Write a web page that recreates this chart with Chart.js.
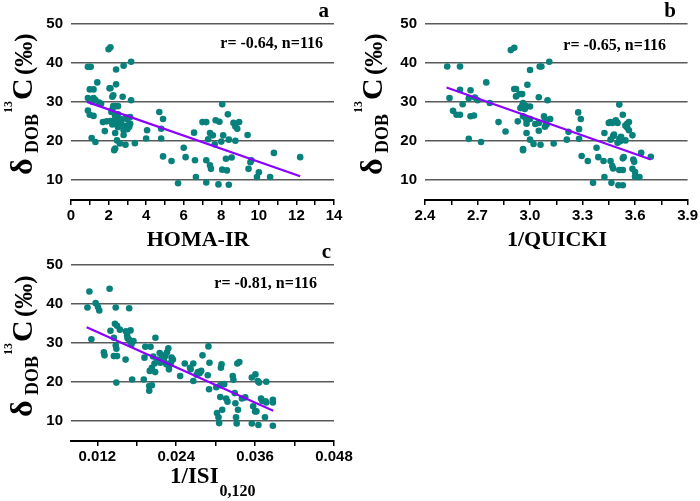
<!DOCTYPE html>
<html>
<head>
<meta charset="utf-8">
<script src="https://cdn.jsdelivr.net/npm/chart.js@4"></script>
<style>
  html, body { margin: 0; padding: 0; background: #fff; }
  #wrap { position: relative; width: 700px; height: 501px; }
  canvas { position: absolute; left: 0; top: 0; }
</style>
</head>
<body>
<div id="wrap">
  <canvas id="chartA" width="700" height="501"></canvas>
  <canvas id="chartB" width="700" height="501"></canvas>
  <canvas id="chartC" width="700" height="501"></canvas>
</div>
<script>
// ---- data ----
var yTicks = [10, 20, 30, 40, 50];

// panel a: HOMA-IR
var xA = [0.9,1.05,2.0,2.1,0.9,1.0,1.2,1.4,1.2,1.3,
  0.9,1.0,1.2,1.5,1.1,1.3,1.7,1.8,2.05,2.1,
  2.2,2.25,2.4,2.4,2.8,3.2,2.75,3.2,2.25,2.35,
  2.5,2.15,2.35,2.4,2.1,2.25,2.4,2.6,2.7,2.9,
  3.05,3.15,2.95,3.15,2.35,2.8,2.45,2.6,2.35,2.3,
  2.9,3.4,3.1,4.05,4.0,4.7,4.9,4.8,4.8,4.9,
  5.35,5.7,6.0,6.1,6.55,6.6,6.65,7.0,7.2,7.2,
  7.2,7.3,7.4,7.55,7.4,7.45,7.65,7.7,7.9,7.85,
  8.05,8.0,8.05,8.3,8.1,8.25,8.35,8.4,8.4,8.55,
  8.65,8.75,8.85,8.75,8.95,9.4,9.45,9.55,9.6,9.9,
  10.0,10.6,10.8,12.2,
  1.6,2.2,2.5,2.7,3.0,1.9,2.2,2.5,2.8,2.45,3.0,1.15];
var yA = [39,39,43.5,44,31,33.2,33.2,35,31,30.5,
  27.8,26.7,26.4,29.8,20.7,19.7,24.8,22.5,33.5,33.5,
  31.3,31.7,34.5,38.3,39.3,40.3,31.3,30.4,28.9,28.9,
  28.9,27.4,26.3,25.7,25.1,25.1,24.4,24.6,24.2,23.7,
  24,24.4,26,26.1,22,22.7,20.1,19.3,18,17.6,
  19,19.4,23.6,22.7,20.6,27.4,25.6,23.1,20.6,16,
  14.8,9.1,18.2,15.8,22.1,15,10.7,24.8,24.8,15,
  9.3,20.4,22,21.4,13.7,12.8,19.1,25.3,24.9,8.8,
  29.4,19.8,12.6,12.4,21.4,15.4,26.8,20.3,8.7,15.7,
  24.6,23.7,23.1,20,24.8,21.5,12.8,14.5,15,10.7,
  11.9,10.7,16.9,15.8,
  29.5,28.0,26.8,25.5,23.0,25.0,24.2,23.5,21.5,24.8,25.5,30.0];
var fitA = [31.43, -1.683];       // intercept, slope
var fitRangeA = [0.85, 12.2];
var xTicksA = [0,1,2,3,4,5,6,7,8,9,10,11,12,13,14];
var xLabelsA = ['0','','2','','4','','6','','8','','10','','12','','14'];

// panel b: 1/QUICKI
var xB = [2.527,2.6,2.54,2.56,2.58,2.6,2.6,2.615,2.65,2.66,
  2.68,2.66,2.65,2.685,2.7,2.72,2.75,2.77,2.82,2.86,
  2.89,2.91,2.91,2.92,2.92,2.94,2.955,2.945,2.955,2.96,
  2.975,3.0,2.93,2.96,2.975,2.98,2.985,3.0,2.98,2.98,
  3.0,2.96,2.96,3.02,3.03,3.05,3.05,3.05,3.055,3.065,
  3.06,3.08,3.085,3.095,3.085,3.1,3.11,3.115,3.135,3.21,
  3.22,3.275,3.28,3.28,3.29,3.295,3.33,3.36,3.38,3.39,
  3.42,3.425,3.425,3.45,3.46,3.46,3.465,3.47,3.475,3.46,
  3.475,3.48,3.49,3.5,3.5,3.515,3.51,3.51,3.52,3.505,
  3.53,3.51,3.53,3.53,3.535,3.53,3.545,3.545,3.555,3.565,
  3.555,3.565,3.585,3.585,3.59,3.595,3.6,3.6,3.625,3.635,
  3.69,2.97,3.0,3.09,3.52,3.47];
var yB = [39.1,39.1,31,27.7,26.7,26.7,33.1,29.4,20.5,26.3,
  26.5,33,30.9,31.1,30.4,19.7,35,29.7,24.8,22.4,
  43.3,43.9,33.3,33.3,31.4,32,32,28.4,29,29.7,
  29,28.8,25,26.3,25.9,25.3,34.4,38.2,24.4,22,
  20.3,17.9,17.6,19.2,24.3,31.2,24.6,22.6,39.1,39.1,
  19,26.3,25.4,24.2,23.6,30.4,40.3,25.6,19.3,20.3,
  22.3,27.3,23,20.5,25.6,16.1,14.8,9.2,18.2,15.8,
  14.8,10.7,22,24.6,24.8,14.8,9.2,13.5,12.9,20.3,
  21.2,21.6,25.3,24.6,19.5,19.9,29.3,20.5,21,8.6,
  8.6,12.5,12.5,15.5,15.8,26.7,20.1,23.9,24.4,24.8,
  23.4,22.7,21.4,12.8,15.2,14.6,12,10.8,10.7,16.9,
  15.9,28.2,25.6,24.8,20.6,24.6];
var fitB = [73.69, -15.85];
var fitRangeB = [2.523, 3.69];
var xTicksB = [2.4,2.55,2.7,2.85,3.0,3.15,3.3,3.45,3.6,3.75,3.9];
var xLabelsB = ['2.4','','2.7','','3.0','','3.3','','3.6','','3.9'];

// panel c: 1/ISI0,120
var xC = [0.0105,0.0108,0.0111,0.01175,0.0121,0.0123,0.013,0.0131,0.01387,0.014,
  0.01452,0.01468,0.015,0.0148,0.01452,0.015,0.0148,0.0149,0.0149,0.01543,
  0.01634,0.01705,0.0163,0.01654,0.0168,0.01705,0.0172,0.01685,0.0173,0.01907,
  0.01917,0.0193,0.0201,0.01998,0.0203,0.0199,0.0203,0.0199,0.02084,0.0207,
  0.0211,0.0208,0.02149,0.02185,0.02124,0.0216,0.02235,0.0226,0.0228,0.0225,
  0.0229,0.0232,0.0229,0.0235,0.0246,0.0253,0.0261,0.0266,0.0266,0.0273,
  0.02755,0.0278,0.028,0.0288,0.0289,0.02906,0.029,0.0302,0.03043,0.03053,
  0.0307,0.0307,0.0308,0.0309,0.031,0.0313,0.0316,0.0318,0.0326,0.0327,
  0.0329,0.033,0.0331,0.0332,0.0334,0.0333,0.0336,0.034,0.0355,0.03605,
  0.0364,0.0357,0.036,0.0355,0.0362,0.0365,0.0366,0.0369,0.0371,0.0375,
  0.0376,0.0377,0.0377,0.0387,0.0387,0.0387,
  0.0166,0.0175,0.0205,0.0218,0.0222,0.0233,0.0271,0.0262,0.0301,0.0345];
var yC = [39.1,43.2,30.9,40.2,39.2,38.3,27.6,26.8,43.9,33.1,
  31.3,34.9,34.4,39.1,26.6,26.6,29.3,28.5,19.8,33.4,
  33,33.2,25.7,31.9,30.9,30.2,29.6,38.9,20.6,20.6,
  26.2,29,29,22.8,23.6,18.9,19.1,17.7,31.3,24.7,
  25.7,22.5,27.4,26.8,25.3,24.9,26.6,27.6,28.6,24.5,
  24,24.9,23.2,25.7,21.5,24.7,23.6,24.7,20.2,22.5,
  22.2,22.8,26.8,21.7,29.1,24.9,18.1,12,10.9,9.4,
  19.1,16.1,23.6,24.5,12.8,19.4,15.7,14.9,21.5,20.5,
  17.1,14.5,10.9,9.3,12.8,24.7,25.1,15.7,21.1,21.9,
  20.2,13.7,12.4,9.3,12.4,8.9,19.8,15.7,15.1,10.9,
  15,14.7,20,15.4,14.7,8.7,
  31.2,30.5,26.5,25.8,25.2,26.2,21.8,23.2,18.6,16.0];
var fitC = [41.85, -755.8];
var fitRangeC = [0.01038, 0.03876];
var xTicksC = [0.012,0.018,0.024,0.030,0.036,0.042,0.048];
var xLabelsC = ['0.012','','0.024','','0.036','','0.048'];

// ---- drawing ----
var W = 700, H = 501;
var SANS = '"Liberation Sans", Arial, sans-serif';
var SERIF = '"Liberation Serif", "Times New Roman", serif';

function drawYTitle(ctx, bx, by) {
  var parts = [
    { t: 'δ',   size: 32, start: 0,   dx: 0 },
    { t: 'DOB', size: 18, start: 22,  dx: 6 },
    { t: '13',  size: 12, start: 62,  dx: -20 },
    { t: 'C',   size: 30, start: 75,  dx: 0 },
    { t: '(‰)', size: 25, start: 100, dx: 0 }
  ];
  parts.forEach(function (p) {
    ctx.save();
    ctx.translate(bx + p.dx, by - p.start);
    ctx.rotate(-Math.PI / 2);
    ctx.font = 'bold ' + p.size + 'px ' + SERIF;
    ctx.textAlign = 'left';
    ctx.textBaseline = 'alphabetic';
    ctx.fillText(p.t, 0, 0);
    ctx.restore();
  });
}

function makePanel(id, cfg) {
  var pts = cfg.xs.map(function (x, i) { return { x: x, y: cfg.ys[i] }; });
  var line = cfg.fitRange.map(function (x) { return { x: x, y: cfg.fit[0] + cfg.fit[1] * x }; });

  var textPlugin = {
    id: 'texts',
    afterDraw: function (chart) {
      var ctx = chart.ctx;
      ctx.save();
      ctx.fillStyle = '#000';
      ctx.textBaseline = 'alphabetic';
      // panel letter
      ctx.font = 'bold 21px ' + SERIF;
      ctx.textAlign = 'right';
      ctx.fillText(cfg.letter[0], cfg.letter[1], cfg.letter[2]);
      // r / n note
      ctx.font = 'bold 16px ' + SERIF;
      ctx.fillText(cfg.note[0], cfg.note[1], cfg.note[2]);
      // x title
      if (cfg.xSub) {
        ctx.textAlign = 'left';
        ctx.font = 'bold 23px ' + SERIF;
        ctx.fillText(cfg.xTitle[0], cfg.xTitle[1], cfg.xTitle[2]);
        var w = ctx.measureText(cfg.xTitle[0]).width;
        ctx.font = 'bold 16px ' + SERIF;
        ctx.fillText(cfg.xSub[0], cfg.xTitle[1] + w + 1, cfg.xSub[1]);
      } else {
        ctx.textAlign = 'center';
        ctx.font = 'bold 22px ' + SERIF;
        ctx.fillText(cfg.xTitle[0], cfg.xTitle[1], cfg.xTitle[2]);
      }
      ctx.restore();
      drawYTitle(ctx, cfg.yTitle[0], cfg.yTitle[1]);
    }
  };

  new Chart(document.getElementById(id), {
    type: 'scatter',
    data: {
      datasets: [
        { data: line, showLine: true, borderColor: '#8B00FF', borderWidth: 2.2,
          pointRadius: 0, fill: false, order: 0 },
        { data: pts, backgroundColor: '#08807c', borderWidth: 0,
          pointRadius: 3.3, order: 1 }
      ]
    },
    options: {
      responsive: false,
      animation: false,
      events: [],
      plugins: { legend: { display: false }, tooltip: { enabled: false } },
      layout: {
        padding: {
          left: cfg.area.left - 71,
          top: cfg.area.top,
          right: W - cfg.area.right,
          bottom: H - cfg.area.bottom - 50
        }
      },
      scales: {
        x: {
          type: 'linear',
          min: cfg.xMin, max: cfg.xMax,
          afterBuildTicks: function (s) { s.ticks = cfg.xTicks.map(function (v) { return { value: v }; }); },
          afterFit: function (s) { s.height = 50; },
          ticks: {
            autoSkip: false, maxRotation: 0, padding: 2, color: '#000',
            font: { family: SANS, size: 15, weight: 'bold' },
            callback: function (v, i) { return cfg.xLabels[i]; }
          },
          grid: { drawOnChartArea: false, drawTicks: true, tickLength: 5, color: '#000', lineWidth: 1.5 },
          border: { display: true, color: '#000', width: 2 }
        },
        y: {
          min: 4.8, max: 50,
          afterBuildTicks: function (s) { s.ticks = yTicks.map(function (v) { return { value: v }; }); },
          afterFit: function (s) { s.width = 71; },
          ticks: {
            padding: 8, color: '#000',
            font: { family: SANS, size: 15, weight: 'bold' },
            callback: function (v) { return String(v); }
          },
          grid: { color: '#5a5a5a', lineWidth: 1.5, drawTicks: false },
          border: { display: false }
        }
      }
    },
    plugins: [textPlugin]
  });
}

makePanel('chartA', {
  xs: xA, ys: yA, fit: fitA, fitRange: fitRangeA,
  xMin: 0, xMax: 14, xTicks: xTicksA, xLabels: xLabelsA,
  area: { left: 71, top: 24, right: 334, bottom: 200 },
  letter: ['a', 329, 17], note: ['r= -0.64, n=116', 323, 48],
  xTitle: ['HOMA-IR', 198, 246], yTitle: [32, 175]
});
makePanel('chartB', {
  xs: xB, ys: yB, fit: fitB, fitRange: fitRangeB,
  xMin: 2.4, xMax: 3.9, xTicks: xTicksB, xLabels: xLabelsB,
  area: { left: 425, top: 24, right: 688, bottom: 200 },
  letter: ['b', 676, 17], note: ['r= -0.65, n=116', 666, 50],
  xTitle: ['1/QUICKI', 557, 246], yTitle: [382, 175]
});
makePanel('chartC', {
  xs: xC, ys: yC, fit: fitC, fitRange: fitRangeC,
  xMin: 0.008, xMax: 0.048, xTicks: xTicksC, xLabels: xLabelsC,
  area: { left: 71, top: 265, right: 334, bottom: 441 },
  letter: ['c', 331, 258], note: ['r= -0.81, n=116', 317, 288],
  xTitle: ['1/ISI', 170, 483], xSub: ['0,120', 496], yTitle: [32, 417]
});
</script>
</body>
</html>
